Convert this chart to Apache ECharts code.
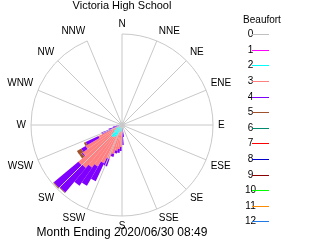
<!DOCTYPE html>
<html><head><meta charset="utf-8">
<script src="https://cdn.jsdelivr.net/npm/echarts@6/dist/echarts.min.js"></script>
<style>html,body{margin:0;padding:0;background:#fff}#c{width:320px;height:240px}</style>
</head><body><div id="c"></div>
<script>
// Compass direction labels (16 spokes)
const directions = ['N','NNE','NE','ENE','E','ESE','SE','SSE','S','SSW','SW','WSW','W','WNW','NW','NNW'];
// 5-degree direction bins (start angle of each bin)
const bins = [0,5,10,15,20,25,30,35,40,45,50,55,60,65,70,75,80,85,90,95,100,105,110,115,120,125,130,135,140,145,150,155,160,165,170,175,180,185,190,195,200,205,210,215,220,225,230,235,240,245,250,255,260,265,270,275,280,285,290,295,300,305,310,315,320,325,330,335,340,345,350,355];
// calm (Beaufort 0) percentage, drawn as centre disk
const calm = 0.33;
// frequency (%) per bin, per Beaufort class
const beaufort2 = [0,0,0,0,0,0,0,0,0,0, 0,0,0,0,0,0,0,0,0,0, 0,0,0,0,0,0,0,0,0,0, 0,0,0,0,0,
  0.11,0.22,0.33,0.44,0.55,0.77,0.99,1.21,1.32,1.32,1.21,0.77,0.44,0.22,0.11,
  0,0,0,0,0,0,0,0,0,0, 0,0,0,0,0,0,0,0,0,0, 0,0];
const beaufort3 = [0,0,0,0,0,0,0,0,0,0, 0,0,0,0,0,0,0,0,0,0, 0,0,0,0,0,0,0,0,0,0, 0,0,0,0,0,
  0.44,1.87,1.98,2.09,2.42,2.86,3.30,3.74,4.07,4.51,4.73,4.18,3.85,2.31,0.88,0.33,
  0,0,0,0,0,0,0,0,0,0, 0,0,0,0,0,0,0,0,0,0, 0];
const beaufort4 = [0,0,0,0,0,0,0,0,0,0, 0,0,0,0,0,0,0,0,0,0, 0,0,0,0,0,0,0,0,0,0, 0,0,0,0,
  0.99,1.32,0.44,0.44,0.33,0.33,0.88,2.20,2.42,2.42,3.52,3.52,0.11,0.55,1.54,1.10,0.88,0.66,0.33,
  0,0,0,0,0,0,0,0,0,0, 0,0,0,0,0,0,0,0,0];
const beaufort5 = [0,0,0,0,0,0,0,0,0,0, 0,0,0,0,0,0,0,0,0,0, 0,0,0,0,0,0,0,0,0,0, 0,0,0,0,0,0,0,0,0,0, 0,0,0,0,
  0.08,0.1,0.33,0.55,0.22,
  0,0,0,0,0,0,0,0,0,0, 0,0,0,0,0,0,0,0,0,0, 0,0,0];
const rMax = 10;
// legend
const legendLabels = ['0','1','2','3','4','5','6','7','8','9','10','11','12'];
const legendColors = ['#c0c0c0','#ff00ff','#00ffff','#ff8080','#8000ff','#a0522d','#008b70','#ff0000','#0000cd','#8b0000','#00ff00','#ff8c00','#1e78e6'];
const titleText = 'Victoria High School';
const footerText = 'Month Ending 2020/06/30 08:49';

const chart = echarts.init(document.getElementById('c'), null, {renderer:'canvas'});
const FONT = 'Liberation Sans, Arial, sans-serif';
const graphics = [
  {type:'text', style:{text:titleText, x:122, y:6, textAlign:'center', textVerticalAlign:'middle', font:'11px '+FONT, fill:'#000'}},
  {type:'text', style:{text:footerText, x:122, y:233, textAlign:'center', textVerticalAlign:'middle', font:'12px '+FONT, fill:'#000'}},
  {type:'text', style:{text:'Beaufort', x:262, y:20.5, textAlign:'center', textVerticalAlign:'middle', font:'10px '+FONT, fill:'#000'}}
];
legendLabels.forEach((lab, i) => {
  const y = Math.round(34.3 + 15.58 * i);
  graphics.push({type:'text', z:1, style:{text:lab, x:250.5, y:y, textAlign:'center', textVerticalAlign:'middle', font:'10px '+FONT, fill:'#000'}});
  graphics.push({type:'rect', z:2, shape:{x:252, y:y, width:17, height:1}, style:{fill:legendColors[i]}});
});

const mk = (name, data, color) => ({
  type:'bar', name, coordinateSystem:'polar', polarIndex:1, stack:'w', data,
  barCategoryGap:'0%', itemStyle:{color}, z:2, silent:true
});

chart.setOption({
  animation:false,
  polar:[{center:[122,125], radius:91}, {center:[122,125], radius:91}],
  angleAxis:[
    {polarIndex:0, type:'category', data:directions, boundaryGap:false, startAngle:90, clockwise:true, z:10,
     axisLine:{show:true, lineStyle:{color:'#c8c8c8', width:1}}, axisTick:{show:false},
     splitLine:{show:true, lineStyle:{color:'#c8c8c8', width:1}},
     axisLabel:{show:true, margin:5, fontSize:10, color:'#000', fontFamily:FONT}},
    {polarIndex:1, type:'category', data:bins, startAngle:90, clockwise:true,
     axisLine:{show:false}, axisTick:{show:false}, splitLine:{show:false}, axisLabel:{show:false}}
  ],
  radiusAxis:[
    {polarIndex:0, type:'value', min:0, max:rMax, axisLine:{show:false}, axisTick:{show:false}, axisLabel:{show:false}, splitLine:{show:false}},
    {polarIndex:1, type:'value', min:0, max:rMax, axisLine:{show:false}, axisTick:{show:false}, axisLabel:{show:false}, splitLine:{show:false}}
  ],
  series:[
    mk('0', bins.map(() => calm), legendColors[0]),
    mk('2', beaufort2, legendColors[2]),
    mk('3', beaufort3, legendColors[3]),
    mk('4', beaufort4, legendColors[4]),
    mk('5', beaufort5, legendColors[5])
  ],
  graphic:graphics
});
</script></body></html>
